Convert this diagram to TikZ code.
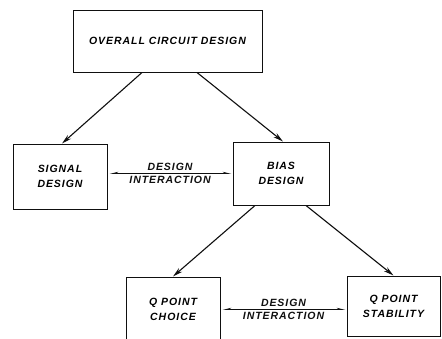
\documentclass[tikz,border=0pt]{standalone}
\usepackage{fontspec}
\usepackage{tikz}
\usetikzlibrary{arrows.meta,positioning,calc}
\newfontfamily\chartFont[LetterSpace=9]{Liberation Sans}
\definecolor{chartInk}{RGB}{15,15,15}

\begin{document}
\begin{tikzpicture}[x=1pt,y=-1pt,
    box/.style={draw=chartInk,line width=1pt,align=center,inner sep=0pt,
      font=\chartFont\bfseries\itshape\fontsize{10.5}{15}\selectfont},
    flow/.style={-{Stealth[length=10pt,width=5pt]},chartInk,line width=1.1pt},
    link/.style={{Stealth[length=7pt,width=3.5pt,harpoon,swap]}-{Stealth[length=7pt,width=3.5pt,harpoon]},
      chartInk,line width=0.9pt,shorten <=2pt,shorten >=1pt},
    tag/.style={font=\chartFont\bfseries\itshape\fontsize{10.5}{11}\selectfont,inner sep=2.5pt}]
        \clip (0,0) rectangle (442,338);
        % Top level
        \node[box,minimum width=189pt,minimum height=62pt] (overall) at (167.5,41)
          {OVERALL CIRCUIT DESIGN};
        % Second level
        \node[box,minimum width=94pt,minimum height=65pt] (signal) at (60,176.5)
          {SIGNAL\\DESIGN};
        \node[box,minimum width=96pt,minimum height=63pt] (bias) at (281,173.5)
          {BIAS\\DESIGN};
        % Third level
        \node[box,minimum width=94pt,minimum height=65pt] (choice) at (173,309.5)
          {Q POINT\\CHOICE};
        \node[box,minimum width=93pt,minimum height=60pt] (stability) at (393.5,306)
          {Q POINT\\STABILITY};
        % Arrows down
        \draw[flow] ([xshift=-25.5pt]overall.south) -- ([xshift=2pt]signal.north);
        \draw[flow] ([xshift=29.5pt]overall.south) -- ([xshift=2pt]bias.north);
        \draw[flow] ([xshift=-26pt]bias.south) -- (choice.north);
        \draw[flow] ([xshift=25pt]bias.south) -- (stability.north);
        % Interaction
        \draw[link] ([yshift=3pt]signal.east) -- (bias.west)
          node[tag,midway,above] (topdesign) {DESIGN}
          node[tag,midway,below] (topinteraction) {INTERACTION};
        \draw[link] (choice.east) -- (stability.west |- choice.east)
          node[tag,midway,above] (lowdesign) {DESIGN}
          node[tag,midway,below] (lowinteraction) {INTERACTION};
      \end{tikzpicture}
\end{document}
